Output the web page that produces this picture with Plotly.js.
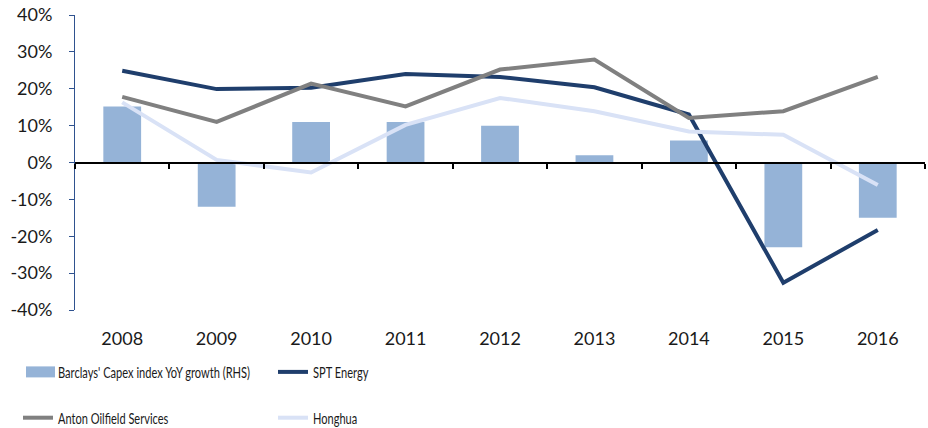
<!DOCTYPE html>
<html>
<head>
<meta charset="utf-8">
<script src="https://cdn.plot.ly/plotly-3.0.1.min.js"></script>
<style>html,body{margin:0;padding:0;background:#fff;}#chart{width:928px;height:428px;}</style>
</head>
<body>
<div id="chart"></div>
<script>
var years = ['2008','2009','2010','2011','2012','2013','2014','2015','2016'];
var capexIndex = [15.2, -12.0, 11.0, 11.0, 10.0, 2.0, 6.0, -23.0, -15.0];
var sptEnergy = [24.9, 19.9, 20.3, 24.0, 23.2, 20.4, 13.0, -32.6, -18.3];
var antonOilfield = [17.8, 11.0, 21.4, 15.2, 25.2, 27.9, 12.1, 13.9, 23.2];
var honghua = [16.3, 0.7, -2.7, 10.2, 17.5, 13.9, 8.4, 7.5, -6.1];
var seriesNames = ["Barclays' Capex index YoY growth (RHS)", 'SPT Energy', 'Anton Oilfield Services', 'Honghua'];
var yTickVals = [-40, -30, -20, -10, 0, 10, 20, 30, 40];
var yTickText = ['-40%', '-30%', '-20%', '-10%', '0%', '10%', '20%', '30%', '40%'];

var tickFont = {family: 'Lato, "Open Sans", sans-serif', size: 18, color: '#1a1a1a'};
var legFont = {family: 'Lato, sans-serif', size: 16, color: '#1a1a1a'};

var traces = [
  {type: 'bar', x: years, y: capexIndex, name: seriesNames[0],
   marker: {color: '#95B3D7'}, legend: 'legend', legendgroup: 'a'},
  {type: 'scatter', mode: 'lines', x: years, y: sptEnergy, name: seriesNames[1],
   line: {color: '#1F3E6C', width: 4}, legend: 'legend2', legendgroup: 'b'},
  {type: 'scatter', mode: 'lines', x: years, y: antonOilfield, name: seriesNames[2],
   line: {color: '#808080', width: 4}, legend: 'legend', legendgroup: 'c'},
  {type: 'scatter', mode: 'lines', x: years, y: honghua, name: seriesNames[3],
   line: {color: '#D9E2F6', width: 4}, legend: 'legend2', legendgroup: 'd'}
];

var layout = {
  width: 928, height: 428,
  margin: {l: 75, r: 3, t: 15, b: 118, autoexpand: false},
  paper_bgcolor: '#ffffff', plot_bgcolor: '#ffffff',
  bargap: 0.6,
  showlegend: true,
  xaxis: {
    type: 'category', showgrid: false, zeroline: false, showline: false,
    ticks: '', tickfont: tickFont, ticklabelstandoff: 16
  },
  xaxis2: {
    type: 'category', overlaying: 'x', matches: 'x', anchor: 'free', position: 0.5,
    side: 'bottom', showline: true, linecolor: '#000000', linewidth: 2,
    ticks: 'outside', tickson: 'boundaries', ticklen: 5, tickwidth: 2, tickcolor: '#000000',
    showticklabels: false, showgrid: false, zeroline: false
  },
  yaxis: {
    range: [-40, 40], tickvals: yTickVals, ticktext: yTickText,
    showgrid: false, zeroline: false, showline: true, linecolor: '#2F528F', linewidth: 1,
    ticks: 'outside', ticklen: 5, tickcolor: '#2F528F', tickfont: tickFont,
    ticklabelstandoff: 13
  },
  legend: {
    xref: 'container', yref: 'container', x: 18/928, y: 1 - 355/428,
    xanchor: 'left', yanchor: 'top', orientation: 'v', tracegroupgap: 22,
    font: legFont, bgcolor: 'rgba(0,0,0,0)'
  },
  legend2: {
    xref: 'container', yref: 'container', x: 273/928, y: 1 - 355/428,
    xanchor: 'left', yanchor: 'top', orientation: 'v', tracegroupgap: 22,
    font: legFont, bgcolor: 'rgba(0,0,0,0)'
  }
};

traces.push({type: 'scatter', mode: 'none', x: years, y: capexIndex.map(function(v){return null;}),
  xaxis: 'x2', yaxis: 'y', showlegend: false, hoverinfo: 'skip'});

var ctx = document.createElement('canvas').getContext('2d');
ctx.font = legFont.size + 'px Lato';
function measure(s) { return ctx.measureText(s).width; }
var FACTOR = 192 / measure(seriesNames[0]);

function condenseLegend(gd) {
  gd.querySelectorAll('text').forEach(function(t){
    var s = (t.textContent || '').trim();
    if (seriesNames.indexOf(s) < 0) return;
    var len = measure(s);
    if (!(len > 0) || FACTOR >= 1) return;
    var want = (len * FACTOR).toFixed(1);
    if (t.getAttribute('textLength') !== want) t.setAttribute('textLength', want);
    if (t.getAttribute('lengthAdjust') !== 'spacingAndGlyphs') t.setAttribute('lengthAdjust', 'spacingAndGlyphs');
  });
  gd.querySelectorAll('g.traces').forEach(function(g){
    var tx = g.querySelector('text');
    if (!tx || (tx.textContent || '').trim() !== seriesNames[0]) return;
    g.querySelectorAll('.legendpoints path').forEach(function(p){
      if (p.getAttribute('d') !== 'M-12,-5.5H17V5.5H-12Z') p.setAttribute('d', 'M-12,-5.5H17V5.5H-12Z');
    });
  });
}

var gdEl = document.getElementById('chart');
Plotly.newPlot(gdEl, traces, layout, {displayModeBar: false, staticPlot: true}).then(function(gd){
  condenseLegend(gd);
  var obs = new MutationObserver(function(){ condenseLegend(gd); });
  obs.observe(gd, {subtree: true, childList: true, attributes: true, characterData: true});
  gd.on('plotly_afterplot', function(){ condenseLegend(gd); });
  var n = 0;
  var iv = setInterval(function(){ condenseLegend(gd); if (++n > 40) clearInterval(iv); }, 50);
});
</script>
</body>
</html>
